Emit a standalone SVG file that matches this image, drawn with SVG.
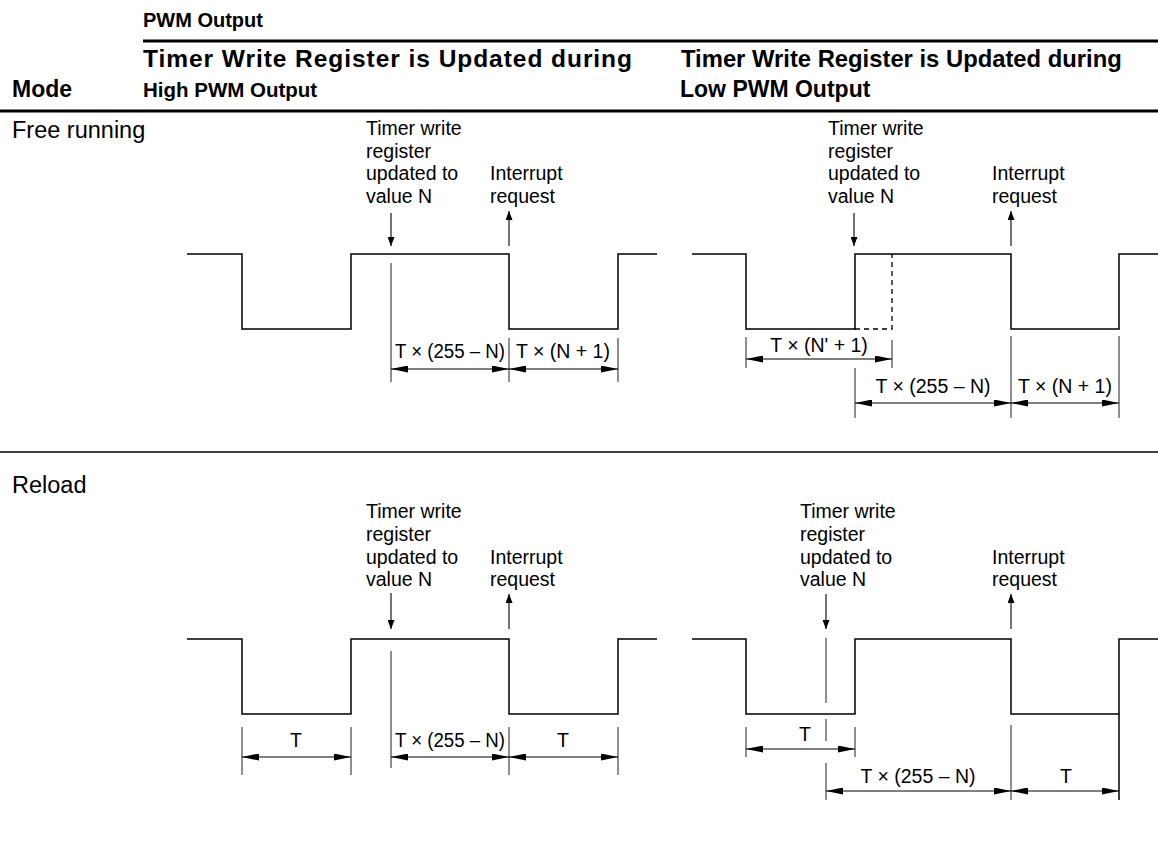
<svg xmlns="http://www.w3.org/2000/svg" width="1158" height="841" viewBox="0 0 1158 841">
<style>
text{font-family:"Liberation Sans",Arial,sans-serif;fill:#000}
.hd{font-weight:bold}
.md{font-size:23.5px}
.lb{font-size:19.5px}
.dt{font-size:19.5px;text-anchor:middle}
.wave{fill:none;stroke:#000;stroke-width:1.5}
.dash{fill:none;stroke:#000;stroke-width:1.3;stroke-dasharray:5,4}
.ext{stroke:#333;stroke-width:1.1}
.dim{stroke:#000;stroke-width:1.1;marker-start:url(#ah);marker-end:url(#ah)}
.ptr{stroke:#000;stroke-width:1.1;marker-end:url(#sa)}
.rule{stroke:#000}
</style>
<defs>
<marker id="ah" viewBox="0 0 17 7" refX="17" refY="3.5" markerWidth="17" markerHeight="7" markerUnits="userSpaceOnUse" orient="auto-start-reverse"><path d="M0,0 L17,3.5 L0,7 z" fill="#000"/></marker>
<marker id="sa" viewBox="0 0 9 7" refX="9" refY="3.5" markerWidth="9" markerHeight="7" markerUnits="userSpaceOnUse" orient="auto"><path d="M0,0 L9,3.5 L0,7 z" fill="#000"/></marker>
</defs>
<rect width="1158" height="841" fill="#fff"/>

<g id="header">
<text class="hd" x="143" y="27" font-size="20">PWM Output</text>
<line class="rule" x1="143" y1="41" x2="1158" y2="41" stroke-width="3"/>
<text class="hd" x="143" y="66.5" font-size="24.5" textLength="489" lengthAdjust="spacing">Timer Write Register is Updated during</text>
<text class="hd" x="143" y="97" font-size="20.5">High PWM Output</text>
<text class="hd" x="681" y="66.5" font-size="23.8">Timer Write Register is Updated during</text>
<text class="hd" x="680" y="97" font-size="23">Low PWM Output</text>
<text class="hd" x="12" y="97" font-size="23">Mode</text>
<line class="rule" x1="0" y1="111" x2="1158" y2="111" stroke-width="3"/>
<line class="rule" x1="0" y1="452" x2="1158" y2="452" stroke-width="1.5"/>
</g>

<g id="mode-free">
<text class="md" x="12" y="138">Free running</text>
</g>
<g id="mode-reload">
<text class="md" x="12" y="493">Reload</text>
</g>

<g id="free-high">
<polyline class="wave" points="187,254 242,254 242,329 351,329 351,254 509,254 509,329 618,329 618,254 657,254"/>
<text class="lb" x="366" y="135">Timer write</text>
<text class="lb" x="366" y="157.5">register</text>
<text class="lb" x="366" y="180">updated to</text>
<text class="lb" x="366" y="202.5">value N</text>
<text class="lb" x="490" y="180">Interrupt</text>
<text class="lb" x="490" y="202.5">request</text>
<line class="ptr" x1="391" y1="213" x2="391" y2="246"/>
<line class="ptr" x1="509" y1="246" x2="509" y2="211"/>
<line class="ext" x1="391" y1="263" x2="391" y2="382"/>
<line class="ext" x1="509" y1="338" x2="509" y2="382"/>
<line class="ext" x1="618" y1="338" x2="618" y2="382"/>
<line class="dim" x1="391" y1="369" x2="509" y2="369"/>
<line class="dim" x1="509" y1="369" x2="618" y2="369"/>
<text class="dt" x="450" y="358" textLength="110" lengthAdjust="spacingAndGlyphs">T × (255 – N)</text>
<text class="dt" x="563" y="358">T × (N + 1)</text>
</g>

<g id="free-low">
<polyline class="wave" points="692,254 746,254 746,329 855,329 855,254 1011,254 1011,329 1119,329 1119,254 1158,254"/>
<polyline class="dash" points="855,329 892,329 892,254"/>
<text class="lb" x="828" y="135">Timer write</text>
<text class="lb" x="828" y="157.5">register</text>
<text class="lb" x="828" y="180">updated to</text>
<text class="lb" x="828" y="202.5">value N</text>
<text class="lb" x="992" y="180">Interrupt</text>
<text class="lb" x="992" y="202.5">request</text>
<line class="ptr" x1="854" y1="213" x2="854" y2="246"/>
<line class="ptr" x1="1011" y1="246" x2="1011" y2="211"/>
<line class="ext" x1="746" y1="337" x2="746" y2="368"/>
<line class="ext" x1="892" y1="340" x2="892" y2="368"/>
<line class="dim" x1="746" y1="359" x2="892" y2="359"/>
<text class="dt" x="819" y="352">T × (N' + 1)</text>
<line class="ext" x1="855" y1="368" x2="855" y2="418"/>
<line class="ext" x1="1011" y1="336" x2="1011" y2="418"/>
<line class="ext" x1="1119" y1="336" x2="1119" y2="418"/>
<line class="dim" x1="855" y1="403" x2="1011" y2="403"/>
<line class="dim" x1="1011" y1="403" x2="1119" y2="403"/>
<text class="dt" x="933" y="393">T × (255 – N)</text>
<text class="dt" x="1065" y="393">T × (N + 1)</text>
</g>

<g id="reload-high">
<polyline class="wave" points="187,639 242,639 242,714 351,714 351,639 509,639 509,714 618,714 618,639 657,639"/>
<text class="lb" x="366" y="518">Timer write</text>
<text class="lb" x="366" y="541">register</text>
<text class="lb" x="366" y="563.5">updated to</text>
<text class="lb" x="366" y="586">value N</text>
<text class="lb" x="490" y="563.5">Interrupt</text>
<text class="lb" x="490" y="586">request</text>
<line class="ptr" x1="391" y1="593" x2="391" y2="629"/>
<line class="ptr" x1="509" y1="629" x2="509" y2="594"/>
<line class="ext" x1="391" y1="651" x2="391" y2="768"/>
<line class="ext" x1="242" y1="727" x2="242" y2="775"/>
<line class="ext" x1="351" y1="727" x2="351" y2="775"/>
<line class="ext" x1="509" y1="727" x2="509" y2="775"/>
<line class="ext" x1="618" y1="727" x2="618" y2="775"/>
<line class="dim" x1="242" y1="757" x2="351" y2="757"/>
<line class="dim" x1="391" y1="757" x2="509" y2="757"/>
<line class="dim" x1="509" y1="757" x2="618" y2="757"/>
<text class="dt" x="296" y="747">T</text>
<text class="dt" x="450" y="747" textLength="110" lengthAdjust="spacingAndGlyphs">T × (255 – N)</text>
<text class="dt" x="563" y="747">T</text>
</g>

<g id="reload-low">
<polyline class="wave" points="692,639 746,639 746,714 855,714 855,639 1011,639 1011,714 1119,714 1119,639 1158,639"/>
<line class="wave" x1="1119" y1="714" x2="1119" y2="800"/>
<text class="lb" x="800" y="518">Timer write</text>
<text class="lb" x="800" y="541">register</text>
<text class="lb" x="800" y="563.5">updated to</text>
<text class="lb" x="800" y="586">value N</text>
<text class="lb" x="992" y="563.5">Interrupt</text>
<text class="lb" x="992" y="586">request</text>
<line class="ptr" x1="826" y1="594" x2="826" y2="629"/>
<line class="ptr" x1="1011" y1="629" x2="1011" y2="594"/>
<line class="ext" x1="826" y1="638" x2="826" y2="703"/>
<line class="ext" x1="826" y1="719" x2="826" y2="741"/>
<line class="ext" x1="746" y1="727" x2="746" y2="757"/>
<line class="ext" x1="855" y1="727" x2="855" y2="757"/>
<line class="dim" x1="746" y1="749" x2="855" y2="749"/>
<text class="dt" x="805" y="741">T</text>
<line class="ext" x1="826" y1="763" x2="826" y2="800"/>
<line class="ext" x1="1011" y1="725" x2="1011" y2="800"/>
<line class="dim" x1="826" y1="791" x2="1011" y2="791"/>
<line class="dim" x1="1011" y1="791" x2="1119" y2="791"/>
<text class="dt" x="918" y="783">T × (255 – N)</text>
<text class="dt" x="1066" y="783">T</text>
</g>
</svg>
